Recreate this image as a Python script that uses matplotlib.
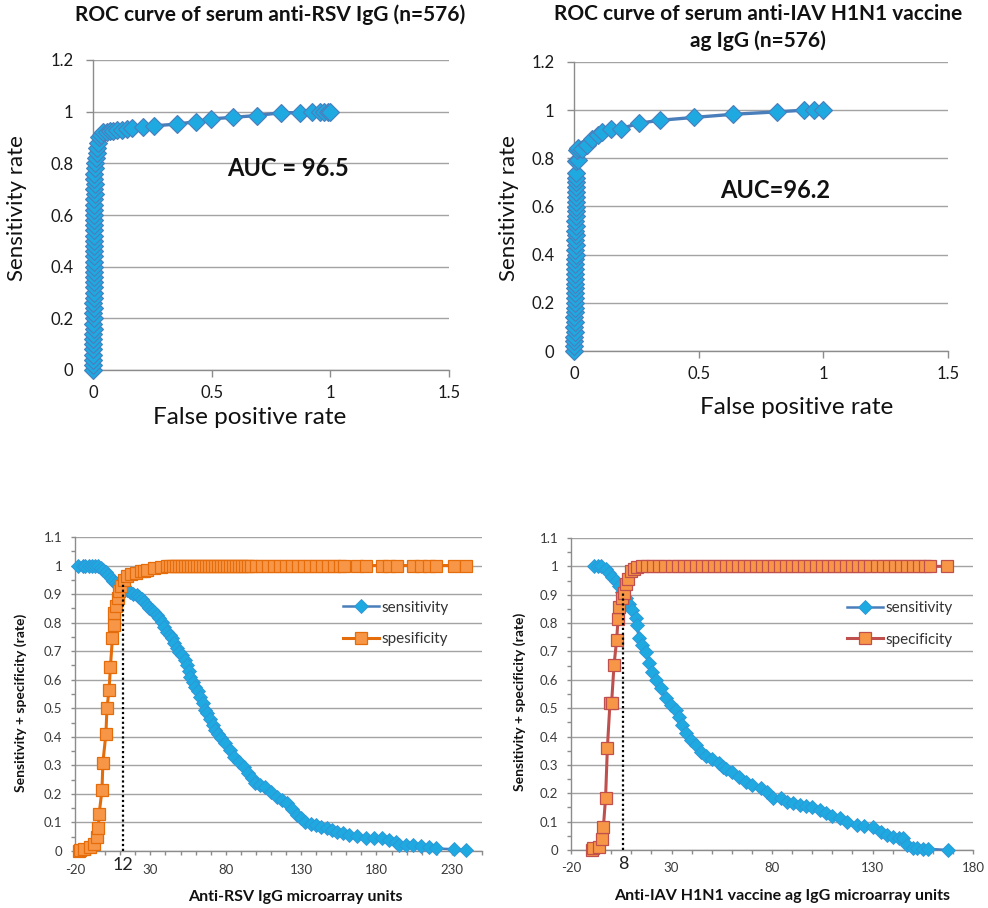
import matplotlib
matplotlib.use('Agg')
import matplotlib.pyplot as plt
import matplotlib.transforms as mtransforms
from matplotlib.ticker import FixedLocator, MultipleLocator, FuncFormatter

plt.rcParams['font.family'] = ['Lato', 'DejaVu Sans']

# ---- ROC, anti-RSV IgG ----
rsv_fpr = [0.0, 0.0, 0.001, 0.0, 0.002, 0.001, 0.002, 0.001, 0.003, 0.002, 0.003, 0.002,
           0.003, 0.002, 0.004, 0.003, 0.004, 0.003, 0.004, 0.003, 0.004, 0.004, 0.005, 0.004,
           0.005, 0.004, 0.005, 0.005, 0.006, 0.005, 0.006, 0.005, 0.006, 0.006, 0.007, 0.006,
           0.007, 0.006, 0.005, 0.008, 0.01, 0.012, 0.015, 0.018, 0.022, 0.027, 0.034, 0.044,
           0.058, 0.072, 0.086, 0.1, 0.121, 0.142, 0.163, 0.209, 0.257, 0.353, 0.433, 0.496,
           0.589, 0.69, 0.792, 0.872, 0.922, 0.957, 0.975, 0.992, 1.0]
rsv_tpr = [0.0, 0.02, 0.04, 0.06, 0.08, 0.1, 0.12, 0.14, 0.16, 0.18, 0.2, 0.22,
           0.24, 0.26, 0.28, 0.3, 0.32, 0.34, 0.36, 0.38, 0.4, 0.42, 0.44, 0.46,
           0.48, 0.5, 0.52, 0.54, 0.56, 0.58, 0.6, 0.62, 0.64, 0.66, 0.68, 0.7,
           0.72, 0.74, 0.76, 0.78, 0.8, 0.82, 0.84, 0.86, 0.88, 0.9, 0.91, 0.92,
           0.922, 0.924, 0.926, 0.928, 0.93, 0.933, 0.935, 0.942, 0.945, 0.952, 0.961, 0.972,
           0.978, 0.985, 0.996, 0.996, 0.997, 1.0, 1.0, 1.0, 1.0]

# ---- ROC, anti-IAV H1N1 vaccine ag IgG ----
iav_fpr = [0.0, 0.0, 0.002, 0.0, 0.003, 0.001, 0.004, 0.002, 0.004, 0.003, 0.005, 0.003,
           0.005, 0.004, 0.006, 0.004, 0.006, 0.005, 0.006, 0.005, 0.007, 0.005, 0.007, 0.006,
           0.007, 0.006, 0.008, 0.006, 0.008, 0.007, 0.008, 0.007, 0.008, 0.007, 0.008, 0.008,
           0.008, 0.008, 0.01, 0.017, 0.011, 0.017, 0.033, 0.051, 0.071, 0.095, 0.113, 0.148,
           0.188, 0.261, 0.345, 0.482, 0.639, 0.815, 0.922, 0.962, 0.999]
iav_tpr = [0.0, 0.02, 0.04, 0.06, 0.08, 0.1, 0.12, 0.14, 0.16, 0.18, 0.2, 0.22,
           0.24, 0.26, 0.28, 0.3, 0.32, 0.34, 0.36, 0.38, 0.4, 0.42, 0.44, 0.46,
           0.48, 0.5, 0.52, 0.54, 0.56, 0.58, 0.6, 0.62, 0.64, 0.66, 0.68, 0.7,
           0.72, 0.74, 0.79, 0.793, 0.834, 0.841, 0.84, 0.855, 0.88, 0.895, 0.91, 0.922,
           0.923, 0.946, 0.958, 0.97, 0.983, 0.993, 1.0, 1.0, 1.0]

# ---- sensitivity / specificity vs anti-RSV IgG units ----
rsv_sens_x = [-17.8, -15, -13.4, -11, -8.9, -6.5, -4.5, -3, -1.2, 0.5, 2.1, 3.8,
              5.5, 7.2, 8.8, 10.5, 12.1, 14.3, 16.6, 18.8, 21, 22.7, 24.3, 26,
              27.7, 29.3, 31, 32.7, 34.3, 36, 37.6, 39.3, 41, 42.7, 44.3, 46,
              47.6, 49.3, 51, 52.7, 54.3, 55.4, 56.5, 58.2, 59.8, 61.5, 63.1, 64.8,
              66.4, 67.6, 69.5, 71.3, 73.1, 75, 77, 79.7, 82.5, 85.3, 88.6, 91.9,
              94.7, 97.5, 99.7, 103, 106.3, 110.2, 114.1, 117.5, 120.8, 124.1, 127.4, 130.2,
              132.9, 136.3, 139.6, 143.5, 147.3, 150.7, 154, 157.9, 161.7, 167.2, 172.8, 178.4,
              183.9, 188.4, 192.8, 195, 199.5, 203.9, 209.4, 215, 219.4, 231.5, 239.3]
rsv_sens_y = [1.0, 1.0, 1.0, 1.0, 1.0, 1.0, 0.998, 0.992, 0.984, 0.976, 0.967, 0.957,
              0.947, 0.94, 0.932, 0.926, 0.92, 0.914, 0.908, 0.902, 0.897, 0.89, 0.882, 0.872,
              0.862, 0.853, 0.844, 0.836, 0.827, 0.815, 0.803, 0.786, 0.768, 0.757, 0.745, 0.728,
              0.71, 0.698, 0.687, 0.67, 0.652, 0.631, 0.61, 0.593, 0.576, 0.559, 0.541, 0.518,
              0.494, 0.482, 0.462, 0.443, 0.424, 0.41, 0.395, 0.377, 0.354, 0.33, 0.312, 0.295,
              0.275, 0.255, 0.237, 0.231, 0.225, 0.208, 0.19, 0.178, 0.167, 0.146, 0.126, 0.114,
              0.102, 0.096, 0.09, 0.084, 0.079, 0.073, 0.068, 0.062, 0.056, 0.051, 0.047, 0.046,
              0.045, 0.039, 0.033, 0.021, 0.021, 0.021, 0.017, 0.015, 0.009, 0.006, 0.004]
rsv_spec_x = [-17.3, -16.5, -13.9, -10, -7.2, -5.7, -4.5, -4.0, -2.1, -1.5, 0.5, 1.2,
              2.6, 3.5, 4.8, 5.7, 6.1, 7.0, 8.4, 9.3, 10.6, 12.4, 14.2, 16.9,
              20.2, 23.5, 26, 28, 32.4, 36.8, 41.2, 43, 45, 47, 49, 51,
              53, 55, 57, 59, 61, 63, 65, 67, 69, 71, 73, 75,
              77, 79, 81, 83, 85, 87, 89, 91, 93, 95, 97, 100,
              104, 108, 112, 116, 120, 124, 128, 132, 136, 140, 144, 148,
              152, 156, 158.4, 167.3, 172.8, 183.9, 188.4, 193.9, 203.9, 209.4, 215, 219.4,
              231.5, 239.3]
rsv_spec_y = [0.0, 0.003, 0.008, 0.015, 0.025, 0.05, 0.08, 0.13, 0.213, 0.31, 0.41, 0.5,
              0.565, 0.645, 0.745, 0.79, 0.835, 0.86, 0.885, 0.91, 0.93, 0.95, 0.965, 0.97,
              0.973, 0.98, 0.982, 0.985, 0.99, 0.995, 1.0, 1.0, 1.0, 1.0, 1.0, 1.0,
              1.0, 1.0, 1.0, 1.0, 1.0, 1.0, 1.0, 1.0, 1.0, 1.0, 1.0, 1.0,
              1.0, 1.0, 1.0, 1.0, 1.0, 1.0, 1.0, 1.0, 1.0, 1.0, 1.0, 1.0,
              1.0, 1.0, 1.0, 1.0, 1.0, 1.0, 1.0, 1.0, 1.0, 1.0, 1.0, 1.0,
              1.0, 1.0, 1.0, 1.0, 1.0, 1.0, 1.0, 1.0, 1.0, 1.0, 1.0, 1.0,
              1.0, 1.0]
rsv_cutoff = 12

# ---- sensitivity / specificity vs anti-IAV H1N1 units ----
iav_sens_x = [-8.6, -6.5, -4.9, -2.8, -1.1, 0.5, 2.2, 3.9, 5.5, 7.2, 8.9, 10.5,
              12.2, 12.7, 13.8, 15.5, 17.2, 18.8, 20.5, 22.1, 24.6, 27.1, 29.6, 32.1,
              33.7, 35.4, 37.1, 39.6, 42, 44.5, 47, 50.3, 53.6, 55.8, 57, 60.3,
              63.6, 66.9, 70.2, 74.4, 77.7, 80.6, 84.3, 87.6, 90.5, 93.9, 96.8, 100.1,
              103.9, 106.7, 110, 113.8, 117.5, 122.1, 125.8, 130.4, 134.1, 137.4, 140.4, 143,
              145.3, 147.3, 150.3, 152.3, 155, 157.8, 167.7]
iav_sens_y = [1.0, 1.0, 1.0, 0.99, 0.975, 0.963, 0.948, 0.93, 0.91, 0.887, 0.867, 0.846,
              0.817, 0.793, 0.746, 0.722, 0.699, 0.658, 0.628, 0.599, 0.57, 0.535, 0.511, 0.493,
              0.47, 0.44, 0.411, 0.388, 0.37, 0.346, 0.331, 0.322, 0.305, 0.294, 0.287, 0.276,
              0.258, 0.24, 0.229, 0.217, 0.205, 0.182, 0.182, 0.17, 0.166, 0.159, 0.155, 0.15,
              0.141, 0.129, 0.121, 0.112, 0.1, 0.088, 0.084, 0.082, 0.062, 0.052, 0.047, 0.043,
              0.041, 0.018, 0.006, 0.006, 0.005, 0.004, 0.0]
iav_spec_x = [-9.7, -8.9, -6.1, -4.7, -3.9, -2.8, -1.9, -0.6, 0.2, 1.4, 2.7, 3.4,
              3.9, 5.2, 6.4, 7.5, 8.5, 9.7, 11.3, 13, 15.5, 18, 21, 24,
              27, 30, 33, 36, 39, 42, 45, 48, 51, 54, 57, 60,
              63, 66, 69, 72, 75, 78, 81, 84, 87, 90, 93, 96,
              99, 102, 105, 108, 111, 114, 117, 120, 123, 126, 129, 132,
              135, 138, 141, 144, 147, 150, 153, 156, 158.6, 167.2]
iav_spec_y = [0.0, 0.007, 0.01, 0.04, 0.08, 0.184, 0.361, 0.519, 0.519, 0.652, 0.74, 0.813,
              0.857, 0.887, 0.905, 0.937, 0.956, 0.984, 0.991, 0.996, 1.0, 1.0, 1.0, 1.0,
              1.0, 1.0, 1.0, 1.0, 1.0, 1.0, 1.0, 1.0, 1.0, 1.0, 1.0, 1.0,
              1.0, 1.0, 1.0, 1.0, 1.0, 1.0, 1.0, 1.0, 1.0, 1.0, 1.0, 1.0,
              1.0, 1.0, 1.0, 1.0, 1.0, 1.0, 1.0, 1.0, 1.0, 1.0, 1.0, 1.0,
              1.0, 1.0, 1.0, 1.0, 1.0, 1.0, 1.0, 1.0, 1.0, 1.0]
iav_cutoff = 5.8
iav_cutoff_label = '8'

GRID = '#a3a3a3'
AXIS = '#8c8c8c'
LINE_BLUE = '#4a7ebb'
DIAMOND = '#1fa9e1'
ORANGE = '#e46c0a'
ORANGE_FILL = '#f79646'
RED = '#c0504d'


def excel_fmt(v, pos=None):
    s = ('%.2f' % v).rstrip('0').rstrip('.')
    return '0' if s in ('-0', '') else s


def style_axes(ax, tick_len, label_size, label_color, pad_x, pad_y):
    for side in ('top', 'right'):
        ax.spines[side].set_visible(False)
    for side in ('left', 'bottom'):
        ax.spines[side].set_color(AXIS)
        ax.spines[side].set_linewidth(1)
    ax.yaxis.grid(True, color=GRID, linewidth=1)
    ax.set_axisbelow(True)
    ax.tick_params(which='both', direction='out', color=AXIS, width=1,
                   labelsize=label_size, labelcolor=label_color)
    ax.tick_params(axis='x', which='major', length=tick_len, pad=pad_x)
    ax.tick_params(axis='y', which='major', length=tick_len, pad=pad_y)
    ax.tick_params(which='minor', length=tick_len)
    ax.xaxis.set_major_formatter(FuncFormatter(excel_fmt))
    ax.yaxis.set_major_formatter(FuncFormatter(excel_fmt))


def roc_panel(rect, fpr, tpr, auc_text, auc_xy):
    ax = fig.add_axes(rect)
    ax.plot(fpr, tpr, color=LINE_BLUE, lw=2.4, marker='D', ms=9,
            mfc=DIAMOND, mec=LINE_BLUE, mew=0.8, clip_on=False, zorder=3)
    ax.set_xlim(0, 1.5)
    ax.set_ylim(0, 1.2)
    ax.xaxis.set_major_locator(FixedLocator([0, 0.5, 1, 1.5]))
    ax.yaxis.set_major_locator(MultipleLocator(0.2))
    style_axes(ax, 5, 12, '#1a1a1a', 6, 9)
    ax.text(auc_xy[0], auc_xy[1], auc_text, fontsize=17, fontweight='bold',
            ha='center', va='center', color='#111111')
    return ax


def cut_panel(rect, xmax, majors, sens_x, sens_y, spec_x, spec_y, spec_edge,
              spec_label, cutoff, cutoff_top, cutoff_label, leg_xy):
    ax = fig.add_axes(rect)
    ax.plot(sens_x, sens_y, color=LINE_BLUE, lw=1.8, marker='D', ms=7,
            mfc=DIAMOND, mec='#2f95d6', mew=0.6, clip_on=False, zorder=3,
            label='sensitivity')
    ax.plot(spec_x, spec_y, color=spec_edge, lw=2.2, marker='s', ms=8.5,
            mfc=ORANGE_FILL, mec=spec_edge, mew=0.9, clip_on=False, zorder=4,
            label=spec_label)
    ax.plot([cutoff, cutoff], [0, cutoff_top], color='black', lw=1.6,
            linestyle=(0, (1, 1.2)), zorder=5)
    ax.set_xlim(-20, xmax)
    ax.set_ylim(0, 1.1)
    ax.xaxis.set_major_locator(FixedLocator(majors))
    ax.xaxis.set_minor_locator(MultipleLocator(10))
    ax.yaxis.set_major_locator(MultipleLocator(0.1))
    ax.yaxis.set_minor_locator(MultipleLocator(0.05))
    style_axes(ax, 3, 9.5, '#3a3a3a', 6, 6)
    trans = mtransforms.blended_transform_factory(ax.transData, ax.transAxes)
    ax.text(cutoff, -0.045, cutoff_label, transform=trans, fontsize=13,
            ha='center', va='center', color='#222222')
    leg = ax.legend(loc='center left', bbox_to_anchor=leg_xy, frameon=False,
                    fontsize=11, borderpad=0, borderaxespad=0, handlelength=2.4,
                    handletextpad=0.15, labelspacing=1.15, numpoints=1)
    for t in leg.get_texts():
        t.set_color('#333333')
    return ax


fig = plt.figure(figsize=(9.88, 9.08), dpi=100)
W, H = 988.0, 908.0


def rect_px(left, top, right, bottom):
    return [left / W, 1 - bottom / H, (right - left) / W, (bottom - top) / H]


roc_panel(rect_px(93, 60, 449, 370), rsv_fpr, rsv_tpr, 'AUC = 96.5', (0.82, 0.78))
roc_panel(rect_px(574, 62, 948, 351), iav_fpr, iav_tpr, 'AUC=96.2', (0.807, 0.668))

cut_panel(rect_px(75, 537, 482, 851), 250, [-20, 30, 80, 130, 180, 230],
          rsv_sens_x, rsv_sens_y, rsv_spec_x, rsv_spec_y, ORANGE, 'spesificity',
          rsv_cutoff, 0.943, '12', (0.658, 0.725))
cut_panel(rect_px(571, 538, 973, 850), 180, [-20, 30, 80, 130, 180],
          iav_sens_x, iav_sens_y, iav_spec_x, iav_spec_y, RED, 'specificity',
          iav_cutoff, 0.905, iav_cutoff_label, (0.686, 0.725))

# titles and axis labels
fig.text(270.5 / W, 1 - 15 / H, 'ROC curve of serum anti-RSV IgG (n=576)',
         fontsize=15, fontweight='bold', ha='center', va='center', color='#111111')
fig.text(758 / W, 1 - 27.5 / H, 'ROC curve of serum anti-IAV H1N1 vaccine\nag IgG (n=576)',
         fontsize=15, fontweight='bold', ha='center', va='center', color='#111111',
         linespacing=1.35)
fig.text(17 / W, 1 - 208 / H, 'Sensitivity rate', fontsize=16, rotation=90,
         ha='center', va='center', color='#111111')
fig.text(509 / W, 1 - 208 / H, 'Sensitivity rate', fontsize=16, rotation=90,
         ha='center', va='center', color='#111111')
fig.text(250 / W, 1 - 418 / H, 'False positive rate', fontsize=17.5,
         ha='center', va='center', color='#111111')
fig.text(797 / W, 1 - 407 / H, 'False positive rate', fontsize=17.5,
         ha='center', va='center', color='#111111')

fig.text(21 / W, 1 - 703 / H, 'Sensitivity + specificity (rate)', fontsize=10,
         fontweight='bold', rotation=90, ha='center', va='center', color='#111111')
fig.text(520 / W, 1 - 702 / H, 'Sensitivity + specificity (rate)', fontsize=10,
         fontweight='bold', rotation=90, ha='center', va='center', color='#111111')
fig.text(295 / W, 1 - 897 / H, 'Anti-RSV IgG microarray units', fontsize=11.5,
         fontweight='bold', ha='center', va='center', color='#111111')
fig.text(782 / W, 1 - 896 / H, 'Anti-IAV H1N1 vaccine ag IgG microarray units', fontsize=11.5,
         fontweight='bold', ha='center', va='center', color='#111111')

fig.savefig('out.png', dpi=100)
